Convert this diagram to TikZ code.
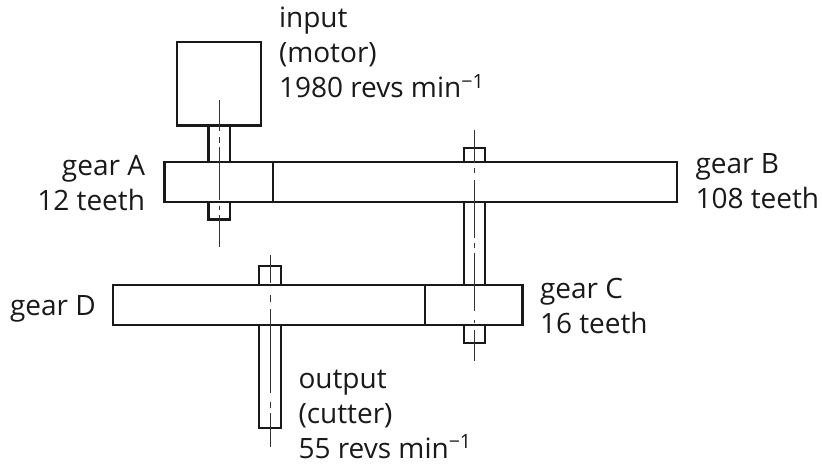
\documentclass[tikz,border=0pt]{standalone}
\usepackage{fontspec}
\setmainfont{Open Sans}
\tikzset{
    part/.style={draw=black!90,line width=2.5pt,fill=white},
    axisline/.style={draw=black!80,line width=1pt},
    label/.style={inner sep=0pt,outer sep=0pt,font=\fontsize{28}{35}\selectfont,text=black!90}
}
\begin{document}
\begin{tikzpicture}[x=1pt,y=-1pt,cap=butt]
    \useasboundingbox (0,0) rectangle (822,468);

    % draw the motor
    \draw[part] (177,42) rectangle (261,125.5);

    % draw the shafts and the caps
    \draw[part] (208.5,125.5) rectangle (230,219.5);
    \draw[part] (464,148) rectangle (485,343);
    \draw[part] (259,266) rectangle (281,428);

    % draw the gears
    \draw[part] (164.5,162) rectangle (677,202);
    \draw[part] (113,285) rectangle (522.5,325);
    \draw[part,line width=2.8pt] (273,162) -- (273,202);
    \draw[part,line width=2.8pt] (425,285) -- (425,325);

    % draw the centre lines
    \draw[axisline] (219,100) -- (219,131) (219,137) -- (219,143) (219,147) -- (219,200)
        (219,206) -- (219,210) (219,215) -- (219,247);
    \draw[axisline] (474.5,130) -- (474.5,163) (474.5,168) -- (474.5,173) (474.5,180) -- (474.5,238)
        (474.5,243) -- (474.5,248) (474.5,253) -- (474.5,311) (474.5,320) -- (474.5,323)
        (474.5,330) -- (474.5,361);
    \draw[axisline] (270,255) -- (270,283) (270,295) -- (270,302) (270,309) -- (270,393)
        (270,402) -- (270,408) (270,413) -- (270,447);

    % draw the labels
    \node[label,anchor=base west,align=left] (input) at (279,98) {input\\(motor)\\1980 revs min\textsuperscript{−1}};
    \node[label,anchor=base east,align=right] (gearA) at (145,210) {gear A\\12 teeth};
    \node[label,anchor=base west,align=left] (gearB) at (695.5,208) {gear B\\108 teeth};
    \node[label,anchor=base west,align=left] (gearC) at (540,333) {gear C\\16 teeth};
    \node[label,anchor=base west] (gearD) at (10,315) {gear D};
    \node[label,anchor=base west,align=left] (output) at (298.5,458) {output\\(cutter)\\55 revs min\textsuperscript{−1}};
\end{tikzpicture}
\end{document}
